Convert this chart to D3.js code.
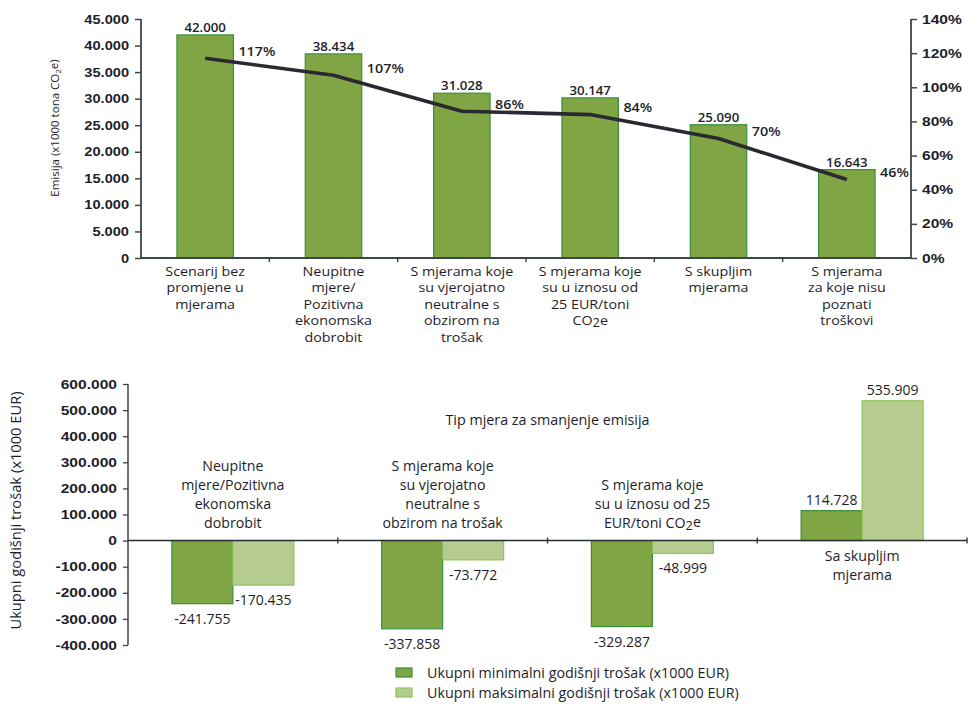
<!DOCTYPE html>
<html><head><meta charset="utf-8">
<script src="https://cdn.jsdelivr.net/npm/d3@7"></script>
<style>
body{margin:0;background:#fff;}
svg{display:block;font-family:"Open Sans",sans-serif;}
</style></head><body>
<svg id="c" width="969" height="704"></svg>
<script>
// ---- Top chart data ----
const topCategories = [
  ["Scenarij bez","promjene u","mjerama"],
  ["Neupitne","mjere/","Pozitivna","ekonomska","dobrobit"],
  ["S mjerama koje","su vjerojatno","neutralne s","obzirom na","trošak"],
  ["S mjerama koje","su u iznosu od","25 EUR/toni","CO2e"],
  ["S skupljim","mjerama"],
  ["S mjerama","za koje nisu","poznati","troškovi"]
];
const emissions = [42000, 38434, 31028, 30147, 25090, 16643];
const percents = [117, 107, 86, 84, 70, 46];
const leftTicks = [0,5000,10000,15000,20000,25000,30000,35000,40000,45000];
const rightTicks = [0,20,40,60,80,100,120,140];

// ---- Bottom chart data ----
const botCategories = [
  ["Neupitne","mjere/Pozitivna","ekonomska","dobrobit"],
  ["S mjerama koje","su vjerojatno","neutralne s","obzirom na trošak"],
  ["S mjerama koje","su u iznosu od 25","EUR/toni CO2e"],
  ["Sa skupljim","mjerama"]
];
const minCost = [-241755, -337858, -329287, 114728];
const maxCost = [-170435, -73772, -48999, 535909];
const botTicks = [-400000,-300000,-200000,-100000,0,100000,200000,300000,400000,500000,600000];
const seriesNames = ["Ukupni minimalni godišnji trošak (x1000 EUR)","Ukupni maksimalni godišnji trošak (x1000 EUR)"];

const darkFill="#7fa545", darkStroke="#3a8f3a", lightFill="#b6cb8f", lightStroke="#8fc35a";
const txt="#1e1e2a", axisCol="#3d4646";
const fmt = v => { const s = d3.format(",")(Math.abs(v)).replace(/,/g,"."); return (v<0?"-":"")+s; };

const svg = d3.select("#c");

function sx(sel,k,origin){
  sel.style("transform-box","fill-box").style("transform-origin",origin).style("transform",`scaleX(${k})`);
}
// helper to write text with "CO2e" subscript
function writeLine(sel, line){
  const idx = line.indexOf("CO2e");
  if(idx<0){ sel.text(line); return; }
  sel.append("tspan").text(line.slice(0,idx)+"CO");
  sel.append("tspan").attr("dy","0.15em").style("font-size","0.9em").text("2");
  sel.append("tspan").attr("dy","-0.15em").text("e"+line.slice(idx+4));
}

// ================= TOP CHART =================
const t = {left:141, right:911, top:19, bottom:258};
const x1 = d3.scaleBand().domain(d3.range(topCategories.length)).range([t.left,t.right]).paddingInner(0).paddingOuter(0);
const yL = d3.scaleLinear().domain([0,45000]).range([t.bottom,t.top]);
const yR = d3.scaleLinear().domain([0,140]).range([t.bottom,t.top]);
const g1 = svg.append("g");

// bars
const bw1 = x1.bandwidth()*0.44;
g1.selectAll("rect.e").data(emissions).join("rect")
  .attr("x",(d,i)=>x1(i)+x1.bandwidth()/2-bw1/2)
  .attr("y",d=>yL(d)).attr("width",bw1).attr("height",d=>yL(0)-yL(d))
  .attr("fill",darkFill).attr("stroke",darkStroke).attr("stroke-width",1.2);

// left axis
const axL = g1.append("g").attr("transform",`translate(${t.left},0)`)
  .call(d3.axisLeft(yL).tickValues(leftTicks).tickSize(6).tickPadding(6).tickFormat(fmt));
// right axis
const axR = g1.append("g").attr("transform",`translate(${t.right},0)`)
  .call(d3.axisRight(yR).tickValues(rightTicks).tickSize(6).tickPadding(5).tickFormat(d=>d+"%"));
[axL,axR].forEach(a=>{
  a.select(".domain").attr("stroke",axisCol).attr("stroke-width",1.8).attr("d",`M0,${t.top}V${t.bottom}`);
  a.selectAll(".tick line").attr("stroke",axisCol).attr("stroke-width",1.5);
  a.selectAll("text").attr("fill",txt).style("font-size","12.5px").style("font-weight","600");
});
sx(axL.selectAll(".tick text"),1.17,"right center");
sx(axR.selectAll(".tick text"),1.25,"left center");
// baseline
g1.append("line").attr("x1",t.left).attr("x2",t.right).attr("y1",t.bottom).attr("y2",t.bottom)
  .attr("stroke",axisCol).attr("stroke-width",1.8);
// category boundary ticks
g1.selectAll("line.ct").data(d3.range(1,topCategories.length)).join("line")
  .attr("x1",i=>x1(i)).attr("x2",i=>x1(i)).attr("y1",t.bottom).attr("y2",t.bottom+4)
  .attr("stroke",axisCol).attr("stroke-width",1.5);

// line
const line = d3.line().x((d,i)=>x1(i)+x1.bandwidth()/2).y(d=>yR(d));
g1.append("path").attr("d",line(percents)).attr("fill","none")
  .attr("stroke","#2b2832").attr("stroke-width",3.6).attr("stroke-linejoin","round");

// bar value labels
const bv = g1.selectAll("text.bv").data(emissions).join("text")
  .attr("x",(d,i)=>x1(i)+x1.bandwidth()/2).attr("y",d=>yL(d)-3)
  .attr("text-anchor","middle").attr("fill",txt).style("font-size","12.5px").style("font-weight","600")
  .text(fmt);
sx(bv,1.06,"center");
// percent labels
const pv = g1.selectAll("text.pv").data(percents).join("text")
  .attr("x",(d,i)=>x1(i)+x1.bandwidth()/2+bw1/2+5).attr("y",d=>yR(d)-6.5).attr("dy","0.35em")
  .attr("fill",txt).style("font-size","12.5px").style("font-weight","600")
  .text(d=>d+"%");
sx(pv,1.15,"left center");

// category labels
topCategories.forEach((lines,i)=>{
  lines.forEach((ln,j)=>{
    const te = g1.append("text").attr("x",x1(i)+x1.bandwidth()/2).attr("y",t.bottom+18+j*16.5)
      .attr("text-anchor","middle").attr("fill",txt).style("font-size","13px");
    writeLine(te,ln);
    sx(te,1.1,"center");
  });
});

// y title
const yt = g1.append("text").attr("transform","translate(59,128) rotate(-90)")
  .attr("text-anchor","middle").attr("fill",txt).style("font-size","11.5px");
yt.append("tspan").text("Emisija (x1000 tona CO");
yt.append("tspan").attr("dy","0.3em").style("font-size","8px").text("2");
yt.append("tspan").attr("dy","-0.3em").text("e)");

// ================= BOTTOM CHART =================
const b = {left:128, right:967, top:384, bottom:645};
const x2 = d3.scaleBand().domain(d3.range(botCategories.length)).range([b.left,b.right]);
const y2 = d3.scaleLinear().domain([-400000,600000]).range([b.bottom,b.top]);
const g2 = svg.append("g");
const bw2 = 61;

const groups = botCategories.map((c,i)=>({i, vals:[minCost[i],maxCost[i]]}));
groups.forEach(gr=>{
  gr.vals.forEach((v,k)=>{
    const xx = x2(gr.i)+x2.bandwidth()/2 + (k===0?-bw2:0);
    g2.append("rect").attr("x",xx).attr("y",Math.min(y2(v),y2(0)))
      .attr("width",bw2).attr("height",Math.abs(y2(v)-y2(0)))
      .attr("fill",k===0?darkFill:lightFill).attr("stroke",k===0?darkStroke:lightStroke).attr("stroke-width",1.2);
    g2.append("text").attr("x",xx+bw2/2)
      .attr("y", v<0 ? y2(v)+20 : y2(v)-6)
      .attr("text-anchor","middle").attr("fill",txt).style("font-size","14px")
      .text(fmt(v));
  });
});

// left axis
const ax2 = g2.append("g").attr("transform",`translate(${b.left},0)`)
  .call(d3.axisLeft(y2).tickValues(botTicks).tickSize(5).tickPadding(6).tickFormat(fmt));
ax2.select(".domain").attr("stroke",axisCol).attr("stroke-width",1.5).attr("d",`M0,${b.top}V${b.bottom}`);
ax2.selectAll(".tick line").attr("stroke",axisCol).attr("stroke-width",1.3);
ax2.selectAll("text").attr("fill",txt).style("font-size","13px").style("font-weight","600");
sx(ax2.selectAll(".tick text"),1.2,"right center");

// zero line
g2.append("line").attr("x1",b.left).attr("x2",b.right).attr("y1",y2(0)).attr("y2",y2(0))
  .attr("stroke","#2a2f2f").attr("stroke-width",1.5);
g2.selectAll("line.ct").data(d3.range(1,botCategories.length+1)).join("line")
  .attr("x1",i=>x2(i)??b.right).attr("x2",i=>x2(i)??b.right).attr("y1",y2(0)-3).attr("y2",y2(0)+3)
  .attr("stroke","#2a2f2f").attr("stroke-width",1.3);

// category labels
botCategories.forEach((lines,i)=>{
  const neg = minCost[i]<0;
  const n = lines.length;
  lines.forEach((ln,j)=>{
    const yy = neg ? y2(0)-13-(n-1-j)*19 : y2(0)+20+j*19;
    const te = g2.append("text").attr("x",x2(i)+x2.bandwidth()/2).attr("y",yy)
      .attr("text-anchor","middle").attr("fill",txt).style("font-size","14.2px");
    writeLine(te,ln);
  });
});

// axis title
g2.append("text").attr("x",(b.left+b.right)/2).attr("y",425).attr("text-anchor","middle")
  .attr("fill",txt).style("font-size","14.3px").text("Tip mjera za smanjenje emisija");
g2.append("text").attr("transform",`translate(21,${(b.top+b.bottom)/2-4}) rotate(-90)`)
  .attr("text-anchor","middle").attr("fill",txt).style("font-size","14.7px").text("Ukupni godišnji trošak (x1000 EUR)");

// legend
seriesNames.forEach((name,k)=>{
  const ly = 673 + k*20;
  g2.append("rect").attr("x",396).attr("y",ly-5).attr("width",16).attr("height",9)
    .attr("fill",k===0?darkFill:lightFill).attr("stroke",k===0?darkStroke:lightStroke).attr("stroke-width",1.2);
  g2.append("text").attr("x",427).attr("y",ly).attr("dy","0.35em").attr("fill",txt)
    .style("font-size","14.3px").text(name);
});
</script></body></html>
